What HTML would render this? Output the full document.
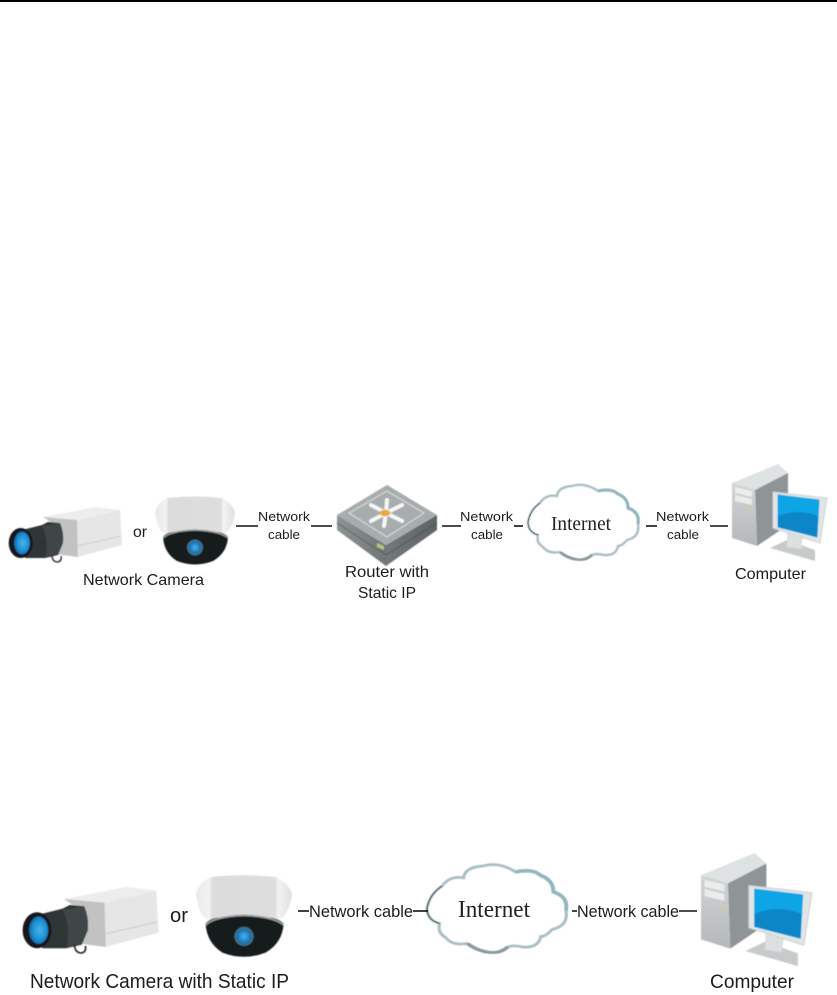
<!DOCTYPE html>
<html><head><meta charset="utf-8"><style>
html,body{margin:0;padding:0;background:#fff;width:837px;height:995px;overflow:hidden}
svg{display:block}
text{font-family:"Liberation Sans",sans-serif;fill:#1c1c1c}
.s{font-family:"Liberation Serif",serif;fill:#222}
</style></head><body>
<svg width="837" height="995" viewBox="0 0 837 995" xmlns="http://www.w3.org/2000/svg">
<defs>
<filter id="soft" x="-5%" y="-5%" width="110%" height="110%"><feGaussianBlur stdDeviation="0.45"/></filter>
<radialGradient id="bl" cx=".55" cy=".5" r=".6"><stop offset="0" stop-color="#45b4ee"/><stop offset=".6" stop-color="#1f8fd2"/><stop offset="1" stop-color="#0b5a94"/></radialGradient>
<radialGradient id="bl2" cx=".5" cy=".5" r=".55"><stop offset="0" stop-color="#4fb2ea"/><stop offset=".7" stop-color="#1c80c2"/><stop offset="1" stop-color="#0f5f90"/></radialGradient>
<linearGradient id="hs" x1="0" y1="0" x2="1" y2="0"><stop offset="0" stop-color="#e9e9e9"/><stop offset=".14" stop-color="#f3f3f3"/><stop offset=".17" stop-color="#dcdcdc"/><stop offset=".82" stop-color="#dedede"/><stop offset=".86" stop-color="#f4f4f4"/><stop offset="1" stop-color="#dedede"/></linearGradient>
<linearGradient id="rl" x1="0" y1="0" x2="1" y2="0"><stop offset="0" stop-color="#8e9494"/><stop offset="1" stop-color="#6f7576"/></linearGradient>
<linearGradient id="rr" x1="0" y1="0" x2="1" y2="0"><stop offset="0" stop-color="#73787a"/><stop offset="1" stop-color="#5e6364"/></linearGradient>
<linearGradient id="tw" x1="0" y1="0" x2="0" y2="1"><stop offset="0" stop-color="#d2d5d5"/><stop offset="1" stop-color="#b4b8b8"/></linearGradient>

<g id="boxcam" filter="url(#soft)">
 <polygon points="43,517 95,507 120,510 77,520" fill="#ededed"/>
 <polygon points="77,520 120,510 122,545 78,557" fill="#e6e6e6"/>
 <polygon points="43,517 77,520 78,557 55,554 55,525" fill="#c2c2c2"/>
 <line x1="78" y1="546" x2="121" y2="536" stroke="#cccccc" stroke-width=".9"/>
 <path d="M22,530 L42,525 L48,522 L60,523 Q64,532 63,543 L58,555 L45,558 L25,558Z" fill="#2f3436"/>
 <path d="M42,526 L60,523 Q64,532 63,543 L58,555 L45,558 Q49,540 42,526Z" fill="#3f4447"/>
 <path d="M52,555 q0,7 6,7 q4,-1 3,-6" fill="none" stroke="#222" stroke-width="1.3"/>
 <ellipse cx="20.7" cy="543" rx="12" ry="15" fill="#14181b"/>
 <ellipse cx="22" cy="543" rx="8" ry="11.5" fill="url(#bl)"/>
</g>

<g id="dome" filter="url(#soft)">
 <path d="M155,512 Q157,503 167,498 Q195,495 222,498 Q232,503 235,512 Q234,522 229,530 L222,536 L168,536 L160,530 Q156,522 155,512Z" fill="url(#hs)"/>
 <path d="M163,537 Q167,531 180,532 Q195,528 210,532 Q223,531 228,537 Q227,553 213,561 Q195,568 177,561 Q164,553 163,537Z" fill="#191b1d"/>
 <path d="M163,538 Q170,531 195,530 Q220,531 228,538" fill="none" stroke="#9a9d9e" stroke-width="1.4"/>
 <circle cx="195" cy="547.5" r="8" fill="#3f6f8d"/>
 <circle cx="195" cy="547.5" r="6" fill="url(#bl2)"/>
</g>

<g id="router" filter="url(#soft)">
 <polygon points="337,515 386,545 386,566 337,530" fill="url(#rl)"/>
 <polygon points="386,545 437,515 437,530 386,566" fill="url(#rr)"/>
 <polygon points="337,515 387,485 437,515 386,545" fill="#a7acac"/>
 <polygon points="349,513 387,491 424,513 387,537" fill="none" stroke="#d4d8d8" stroke-width="1.2"/>
 <line x1="337" y1="523" x2="386" y2="555" stroke="#5a5f60" stroke-width=".9"/>
 <line x1="386" y1="555" x2="437" y2="523" stroke="#4d5253" stroke-width=".9"/>
 <g stroke="#f6f6f6" stroke-width="4" stroke-linecap="round">
  <line x1="386" y1="513" x2="387" y2="500"/><line x1="386" y1="513" x2="384" y2="526"/>
  <line x1="386" y1="513" x2="371" y2="505"/><line x1="386" y1="513" x2="402" y2="505"/>
  <line x1="386" y1="513" x2="371" y2="521"/><line x1="386" y1="513" x2="402" y2="521"/>
 </g>
 <ellipse cx="385" cy="513" rx="5.5" ry="3.2" fill="#eda83a"/>
 <polygon points="377,543 384,546 384,550 377,547" fill="#b5c47a"/>
</g>

<g id="cloud">
 <path d="M528,522 Q530,510 540,503 Q546,494 557,496 Q558,487 572,486 Q585,482 598,491 Q612,488 618,494 Q628,498 628,508 Q640,512 638,524 Q640,537 627,540 Q622,546 618,546 Q616,556 604,555 Q596,553 592,555 Q584,562 574,559 Q566,557 560,552 Q548,554 543,547 Q536,543 538,535 Q528,532 528,522Z" fill="#fff" stroke="#a9bec2" stroke-width="2.4" filter="url(#soft)"/>
 <path d="M598,491 Q612,488 618,494 Q628,498 628,508 Q640,512 638,524" fill="none" stroke="#8fb8c0" stroke-width="2.8" filter="url(#soft)"/>
 <path d="M592,555 Q584,562 574,559 Q566,557 560,552" fill="none" stroke="#8d9a9c" stroke-width="2.6" filter="url(#soft)"/>
 <path d="M540,503 Q530,510 528,522 Q528,532 538,535" fill="none" stroke="#6e7577" stroke-width="1"/>
</g>

<g id="pc" filter="url(#soft)">
 <polygon points="732,483 778,464 788,473 755,490" fill="#dfe2e2"/>
 <polygon points="755,490 788,473 788,525 757,546" fill="#8f9596"/>
 <polygon points="732,483 755,490 757,546 732,538" fill="url(#tw)"/>
 <polygon points="735,487 752,491 752,497 735,493" fill="#ebeded"/>
 <polygon points="735,495 752,499 752,505 735,501" fill="#ebeded"/>
 <polygon points="748,509 753,510 753,512 748,511" fill="#cfd09a"/>
 <polygon points="770,548 787,540 815,550 815,561" fill="#c6caca"/>
 <polygon points="787,533 803,537 801,549 787,547" fill="#dde0e0"/>
 <polygon points="773,492 827,498 820,543 773,528" fill="#e2e5e6" stroke="#cfd3d4" stroke-width="1" stroke-linejoin="round"/>
 <polygon points="778,495 819,500 817,537 778,527" fill="#10a5e6" stroke="#10a5e6" stroke-width="1" stroke-linejoin="round"/>
 <path d="M778,516 Q798,508 818,516 L817,537 L778,527Z" fill="#0c86c8"/>
</g>
</defs>

<rect x="0" y="0" width="837" height="2" fill="#000"/>

<!-- top diagram -->
<use href="#boxcam"/>
<use href="#dome"/>
<use href="#router"/>
<use href="#cloud"/>
<use href="#pc"/>
<g stroke="#111" stroke-width="1.6">
 <line x1="236" y1="526" x2="258" y2="526"/><line x1="311" y1="526" x2="332" y2="526"/>
 <line x1="442" y1="526" x2="461" y2="526"/><line x1="514" y1="526" x2="523" y2="526"/>
 <line x1="646" y1="526" x2="657" y2="526"/><line x1="710" y1="526" x2="728" y2="526"/>
</g>
<text x="133" y="537" font-size="16" textLength="14" lengthAdjust="spacingAndGlyphs">or</text>
<text x="258" y="521" font-size="13" textLength="52" lengthAdjust="spacingAndGlyphs">Network</text>
<text x="268" y="539" font-size="13" textLength="32" lengthAdjust="spacingAndGlyphs">cable</text>
<text x="460" y="521" font-size="13" textLength="53" lengthAdjust="spacingAndGlyphs">Network</text>
<text x="471" y="539" font-size="13" textLength="32" lengthAdjust="spacingAndGlyphs">cable</text>
<text x="656" y="521" font-size="13" textLength="53" lengthAdjust="spacingAndGlyphs">Network</text>
<text x="667" y="539" font-size="13" textLength="32" lengthAdjust="spacingAndGlyphs">cable</text>
<text x="83" y="585" font-size="16" textLength="121" lengthAdjust="spacingAndGlyphs">Network Camera</text>
<text x="345" y="577" font-size="16" textLength="84" lengthAdjust="spacingAndGlyphs">Router with</text>
<text x="358" y="598" font-size="16" textLength="58" lengthAdjust="spacingAndGlyphs">Static IP</text>
<text class="s" x="551" y="530" font-size="20" textLength="60" lengthAdjust="spacingAndGlyphs">Internet</text>
<text x="735" y="579" font-size="16" textLength="71" lengthAdjust="spacingAndGlyphs">Computer</text>

<!-- bottom diagram -->
<use href="#boxcam" transform="translate(12.2 278.6) scale(1.2)"/>
<use href="#dome" transform="translate(10 279.4) scale(1.2)"/>
<use href="#cloud" transform="translate(-240.4 296) scale(1.264 1.173)"/>
<use href="#pc" transform="translate(-153.2 311.5) scale(1.167)"/>
<g stroke="#111" stroke-width="1.6">
 <line x1="298" y1="911" x2="309" y2="911"/><line x1="413" y1="911" x2="428" y2="911"/>
 <line x1="572" y1="911" x2="577" y2="911"/><line x1="679" y1="911" x2="697" y2="911"/>
</g>
<text x="170" y="922" font-size="20" textLength="18" lengthAdjust="spacingAndGlyphs">or</text>
<text x="309" y="917" font-size="17" textLength="104" lengthAdjust="spacingAndGlyphs">Network cable</text>
<text x="577" y="917" font-size="17" textLength="102" lengthAdjust="spacingAndGlyphs">Network cable</text>
<text class="s" x="458" y="917" font-size="24" textLength="72" lengthAdjust="spacingAndGlyphs">Internet</text>
<text x="30" y="988" font-size="20.5" textLength="259" lengthAdjust="spacingAndGlyphs">Network Camera with Static IP</text>
<text x="710" y="988" font-size="19.5" textLength="84" lengthAdjust="spacingAndGlyphs">Computer</text>
</svg>
</body></html>
